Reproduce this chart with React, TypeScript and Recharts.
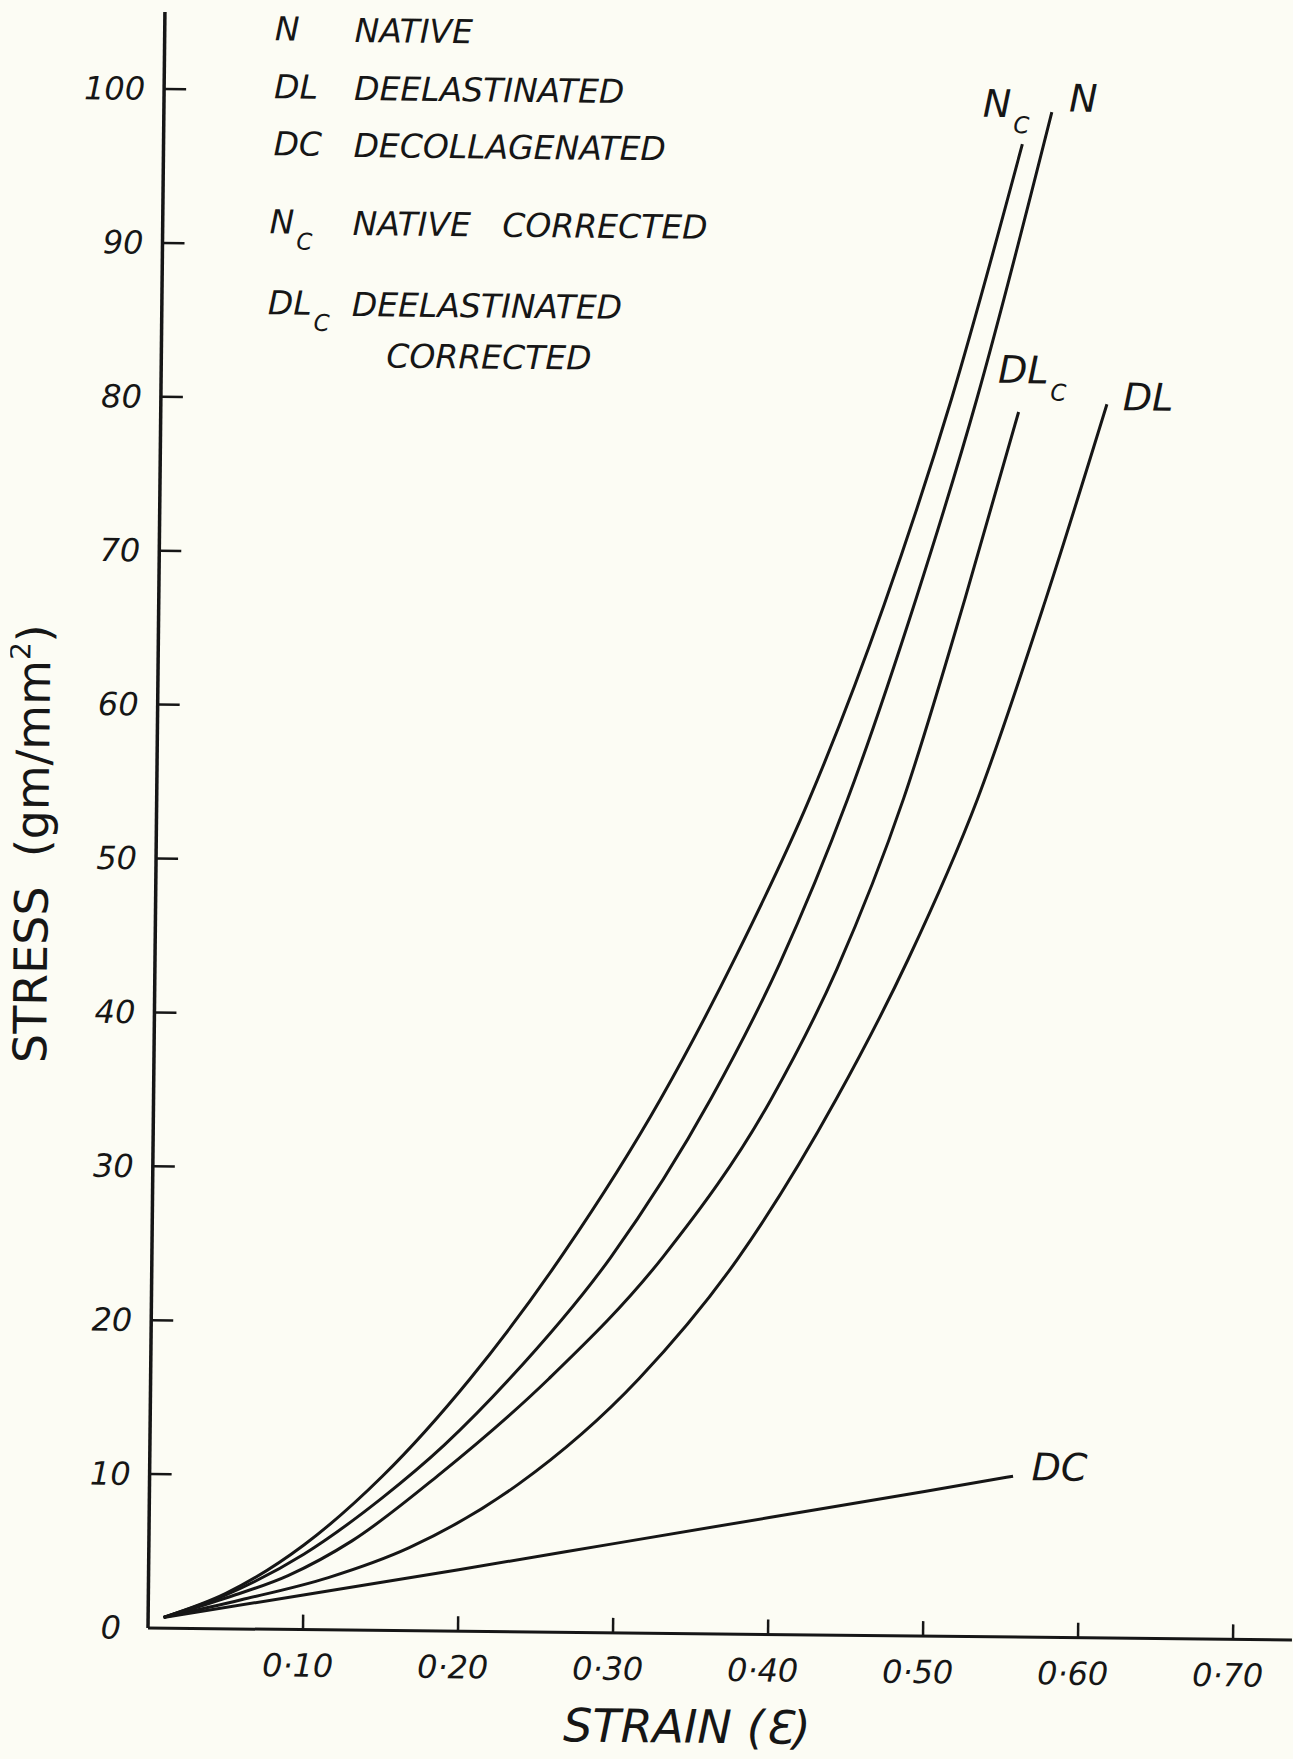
import { Line, LineChart, XAxis, YAxis } from "recharts";

const INK = "#161616";
const PAPER = "#fcfcf4";
const FONT = "'DejaVu Sans', 'Noto Sans', sans-serif";

// strain (ε) against stress (gm/mm²) for each specimen
const strainN = [0.01, 0.05, 0.1, 0.15, 0.19, 0.2317, 0.296, 0.3597, 0.403, 0.4456, 0.4885, 0.5263, 0.5728];
const stressN = [0.7, 2.2, 4.9, 8.6, 12.1, 16.45, 24.4, 34.8, 43.6, 54.3, 67.4, 80.4, 99.1];

const strainNc = [0.01, 0.05, 0.1, 0.15, 0.206, 0.266, 0.327, 0.375, 0.421, 0.468, 0.51, 0.554];
const stressNc = [0.7, 2.3, 5.5, 10.0, 16.4, 24.7, 34.7, 44.1, 54.3, 67.0, 80.4, 97.0];

const strainDL = [0.01, 0.06, 0.116, 0.168, 0.238, 0.315, 0.378, 0.4405, 0.486, 0.5295, 0.5722, 0.6103];
const stressDL = [0.7, 1.9, 3.4, 5.4, 9.6, 16.53, 24.4, 34.85, 44.0, 54.43, 67.46, 80.16];

const strainDLc = [0.01, 0.05, 0.09, 0.131, 0.186, 0.2569, 0.33, 0.3985, 0.44, 0.4818, 0.52, 0.5534];
const stressDLc = [0.7, 2.0, 3.5, 5.8, 10.1, 16.47, 24.5, 34.8, 43.3, 54.4, 67.4, 79.6];

const strainDC = [0.01, 0.1, 0.2, 0.3, 0.4, 0.5, 0.557];
const stressDC = [0.7, 2.25, 4.0, 5.8, 7.6, 9.4, 10.45];

const strainTicks = [0.1, 0.2, 0.3, 0.4, 0.5, 0.6, 0.7];
const stressTicks = [0, 10, 20, 30, 40, 50, 60, 70, 80, 90, 100];

const toPoints = (strain: number[], stress: number[]) =>
  strain.map((s, i) => ({ strain: s, stress: stress[i] }));

const series = [
  { key: "N", data: toPoints(strainN, stressN) },
  { key: "Nc", data: toPoints(strainNc, stressNc) },
  { key: "DL", data: toPoints(strainDL, stressDL) },
  { key: "DLc", data: toPoints(strainDLc, stressDLc) },
  { key: "DC", data: toPoints(strainDC, stressDC) },
];

const textStyle = {
  fontFamily: FONT,
  fontStyle: "italic",
  fontWeight: 300,
  fill: INK,
} as const;

function StrainTick({ x, y, payload }: any) {
  return (
    <g>
      <line x1={x} y1={y} x2={x} y2={y - 15} stroke={INK} strokeWidth={2.5} />
      <text x={x - 5} y={y + 47} textAnchor="middle" fontSize={32} {...textStyle}>
        {payload.value.toFixed(2).replace(".", "·")}
      </text>
    </g>
  );
}

function StressTick({ x, y, payload }: any) {
  const v = payload.value;
  return (
    <g>
      {v > 0 && <line x1={x} y1={y} x2={x + 22} y2={y} stroke={INK} strokeWidth={2.5} />}
      <text
        x={v === 0 ? x - 27 : x - 19}
        y={y + 11}
        textAnchor="end"
        fontSize={32}
        {...textStyle}
      >
        {v}
      </text>
    </g>
  );
}

function Key({ x, y, code, sub, label }: { x: number; y: number; code: string; sub?: string; label: string }) {
  return (
    <g {...textStyle} fontSize={33}>
      <text x={x} y={y}>
        {code}
        {sub && (
          <tspan dx={2} dy={16} fontSize={23}>
            {sub}
          </tspan>
        )}
      </text>
      <text x={338} y={y + 1} style={{ whiteSpace: "pre" }}>
        {label}
      </text>
    </g>
  );
}

function Annotations() {
  return (
    <svg
      width={1293}
      height={1759}
      style={{ position: "absolute", left: 0, top: 0, pointerEvents: "none" }}
    >
      <Key x={258} y={39} code="N" label="NATIVE" />
      <Key x={258} y={97} code="DL" label="DEELASTINATED" />
      <Key x={258} y={154} code="DC" label="DECOLLAGENATED" />
      <Key x={255} y={232} code="N" sub="C" label="NATIVE   CORRECTED" />
      <Key x={254} y={313} code="DL" sub="C" label="DEELASTINATED" />
      <text x={373} y={365} fontSize={33} {...textStyle}>
        CORRECTED
      </text>

      {/* curve end labels */}
      <g {...textStyle} fontSize={38}>
        <text x={967} y={108}>
          N
          <tspan dx={2} dy={16} fontSize={23}>
            C
          </tspan>
        </text>
        <text x={1053} y={102}>N</text>
        <text x={985} y={374}>
          DL
          <tspan dx={2} dy={17} fontSize={23}>
            C
          </tspan>
        </text>
        <text x={1110} y={400}>DL</text>
        <text x={1030} y={1471}>DC</text>
      </g>

      <text
        x={688}
        y={1737}
        textAnchor="middle"
        fontSize={46}
        {...textStyle}
        style={{ whiteSpace: "pre" }}
      >
        STRAIN (Ɛ)
      </text>
      <text
        x={40}
        y={845}
        transform="rotate(-90 40 845)"
        textAnchor="middle"
        fontSize={46}
        fontFamily={FONT}
        fontWeight={400}
        fill={INK}
        style={{ whiteSpace: "pre" }}
      >
        {"STRESS  (gm/mm"}
        <tspan dy={-20} fontSize={28}>
          2
        </tspan>
        <tspan dy={20}>)</tspan>
      </text>
    </svg>
  );
}

export default function App() {
  return (
    <div
      style={{
        position: "absolute",
        left: 0,
        top: 0,
        width: 1293,
        height: 1759,
        background: PAPER,
        overflow: "hidden",
      }}
    >
      <div
        style={{
          position: "absolute",
          left: 0,
          top: 0,
          width: 1293,
          height: 1759,
          transform: "rotate(0.6deg)",
          transformOrigin: "148px 1628px",
        }}
      >
        <LineChart width={1293} height={1759} margin={{ top: 12, right: 1, bottom: 0, left: 0 }}>
          <XAxis
            type="number"
            dataKey="strain"
            domain={[0, 0.738]}
            ticks={strainTicks}
            height={131}
            tickSize={0}
            tickMargin={0}
            tickLine={false}
            axisLine={{ stroke: INK, strokeWidth: 3 }}
            tick={(p: any) => <StrainTick {...p} />}
            allowDataOverflow
          />
          <YAxis
            type="number"
            domain={[0, 105]}
            ticks={stressTicks}
            width={148}
            tickSize={0}
            tickMargin={0}
            tickLine={false}
            axisLine={{ stroke: INK, strokeWidth: 3.5 }}
            tick={(p: any) => <StressTick {...p} />}
            allowDataOverflow
          />
          {series.map((s) => (
            <Line
              key={s.key}
              data={s.data}
              dataKey="stress"
              type="monotone"
              stroke={INK}
              strokeWidth={3}
              dot={false}
              isAnimationActive={false}
            />
          ))}
        </LineChart>
        <Annotations />
      </div>
    </div>
  );
}
